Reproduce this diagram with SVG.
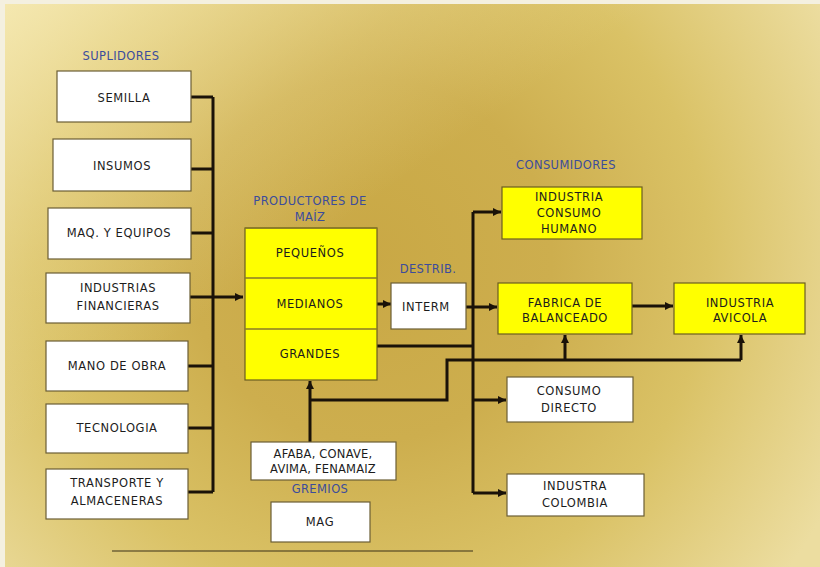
<svg xmlns="http://www.w3.org/2000/svg" width="820" height="567" viewBox="0 0 820 567">
<defs>
<radialGradient id="bg" cx="370" cy="260" r="520" gradientUnits="userSpaceOnUse">
<stop offset="0" stop-color="#c9a845"/>
<stop offset="0.35" stop-color="#cdae4e"/>
<stop offset="0.65" stop-color="#dac266"/>
<stop offset="1" stop-color="#ecdda0"/>
</radialGradient>
<linearGradient id="tl" x1="0" y1="0" x2="1" y2="1">
<stop offset="0" stop-color="#f6eab4" stop-opacity="0.9"/>
<stop offset="0.25" stop-color="#f0e0a0" stop-opacity="0.3"/>
<stop offset="0.4" stop-color="#f0e0a0" stop-opacity="0"/>
</linearGradient>
<marker id="ah" viewBox="0 0 8 8" refX="8" refY="4" markerWidth="8" markerHeight="8" markerUnits="userSpaceOnUse" orient="auto">
<path d="M0,0 L8,4 L0,8 z" fill="#1a1208"/>
</marker>
</defs>
<style>
.w{fill:#ffffff;stroke:#6b5e35;stroke-width:1.2}
.y{fill:#ffff00;stroke:#6b5e20;stroke-width:1.2}
.t{font-family:"DejaVu Sans",sans-serif;font-size:11.5px;fill:#1c1c1c;text-anchor:middle;letter-spacing:0.6px}
.h{font-family:"DejaVu Sans",sans-serif;font-size:11.5px;fill:#3b4c9c;text-anchor:middle;letter-spacing:0.4px}
.c{fill:none;stroke:#1a1208;stroke-width:3}
.ca{fill:none;stroke:#1a1208;stroke-width:3;marker-end:url(#ah)}
</style>
<rect x="0" y="0" width="820" height="567" fill="#f4f0e0"/>
<rect x="5" y="4" width="815" height="563" fill="url(#bg)"/>
<rect x="5" y="4" width="815" height="563" fill="url(#tl)"/>

<text class="h" x="121" y="60">SUPLIDORES</text>
<text class="h" x="310" y="205">PRODUCTORES DE</text>
<text class="h" x="310" y="221">MAÍZ</text>
<text class="h" x="428" y="273">DESTRIB.</text>
<text class="h" x="566" y="169">CONSUMIDORES</text>
<text class="h" x="320" y="493">GREMIOS</text>

<g id="connectors">
<path class="c" d="M191,97 H213 M191,169 H213 M191,233 H213 M188,366 H213 M188,428 H213 M188,492 H213 M213,97 V492"/>
<path class="ca" d="M190,297 H243"/>
<path class="ca" d="M377,304 H391"/>
<path class="ca" d="M466,307 H497"/>
<path class="c" d="M473,212 V493"/>
<path class="ca" d="M473,212 H501"/>
<path class="ca" d="M473,400 H506"/>
<path class="ca" d="M473,493 H506"/>
<path class="c" d="M377,346 H473"/>
<path class="ca" d="M632,306 H673"/>
<path class="ca" d="M310,442 V381"/>
<path class="c" d="M310,400 H447 V360 H741"/>
<path class="ca" d="M565,360 V335"/>
<path class="ca" d="M741,360 V335"/>
</g>

<g id="semilla"><rect class="w" x="57" y="71" width="134" height="51"/><text class="t" x="124" y="102">SEMILLA</text></g>
<g id="insumos"><rect class="w" x="53" y="139" width="138" height="52"/><text class="t" x="122" y="170">INSUMOS</text></g>
<g id="maq"><rect class="w" x="48" y="208" width="143" height="51"/><text class="t" x="119" y="237">MAQ. Y EQUIPOS</text></g>
<g id="financieras"><rect class="w" x="46" y="273" width="144" height="50"/><text class="t" x="118" y="292">INDUSTRIAS</text><text class="t" x="118" y="310">FINANCIERAS</text></g>
<g id="mano"><rect class="w" x="46" y="341" width="142" height="50"/><text class="t" x="117" y="370">MANO DE OBRA</text></g>
<g id="tecnologia"><rect class="w" x="46" y="404" width="142" height="49"/><text class="t" x="117" y="432">TECNOLOGIA</text></g>
<g id="transporte"><rect class="w" x="46" y="469" width="142" height="50"/><text class="t" x="117" y="487">TRANSPORTE Y</text><text class="t" x="117" y="505">ALMACENERAS</text></g>

<g id="productores">
<rect class="y" x="245" y="228" width="132" height="152" stroke="none"/>
<line x1="245" y1="228" x2="377" y2="228" stroke="#8a7a28" stroke-width="1.5"/>
<line x1="245" y1="278" x2="377" y2="278" stroke="#8a7a28" stroke-width="1.5"/>
<line x1="245" y1="329" x2="377" y2="329" stroke="#8a7a28" stroke-width="1.5"/>
<text class="t" x="310" y="257">PEQUEÑOS</text>
<text class="t" x="310" y="308">MEDIANOS</text>
<text class="t" x="310" y="358">GRANDES</text>
</g>

<g id="interm"><rect class="w" x="391" y="283" width="75" height="46"/><text class="t" x="426" y="311">INTERM</text></g>

<g id="ich"><rect class="y" x="502" y="187" width="140" height="52"/><text class="t" x="569" y="201">INDUSTRIA</text><text class="t" x="569" y="217">CONSUMO</text><text class="t" x="569" y="233">HUMANO</text></g>
<g id="fabrica"><rect class="y" x="498" y="283" width="134" height="51"/><text class="t" x="565" y="307">FABRICA DE</text><text class="t" x="565" y="322">BALANCEADO</text></g>
<g id="avicola"><rect class="y" x="674" y="283" width="131" height="51"/><text class="t" x="740" y="307">INDUSTRIA</text><text class="t" x="740" y="322">AVICOLA</text></g>
<g id="directo"><rect class="w" x="507" y="377" width="126" height="45"/><text class="t" x="569" y="395">CONSUMO</text><text class="t" x="569" y="412">DIRECTO</text></g>
<g id="colombia"><rect class="w" x="507" y="474" width="137" height="42"/><text class="t" x="575" y="490">INDUSTRA</text><text class="t" x="575" y="507">COLOMBIA</text></g>

<g id="afaba"><rect class="w" x="251" y="442" width="145" height="38"/><text class="t" x="323" y="458" style="letter-spacing:0.2px">AFABA, CONAVE,</text><text class="t" x="323" y="473" style="letter-spacing:0.2px">AVIMA, FENAMAIZ</text></g>
<g id="mag"><rect class="w" x="271" y="502" width="99" height="40"/><text class="t" x="320" y="526">MAG</text></g>

<line x1="112" y1="551" x2="473" y2="551" stroke="#3a3018" stroke-width="1.2"/>
</svg>
